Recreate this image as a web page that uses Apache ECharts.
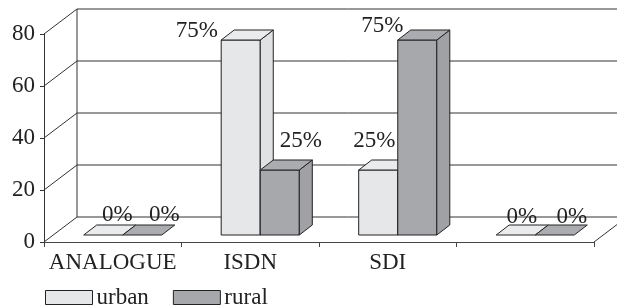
<!DOCTYPE html>
<html>
<head>
<meta charset="utf-8">
<script src="https://cdn.jsdelivr.net/npm/echarts@6/dist/echarts.min.js"></script>
<style>
  html, body { margin: 0; padding: 0; background: #fff; }
  #myChart { width: 617px; height: 306px; }
</style>
</head>
<body>
<div id="myChart"></div>
<script>
// 数据
var categories = ["ANALOGUE", "ISDN", "SDI", ""];
var urban = [0, 75, 25, 0];
var rural = [0, 25, 75, 0];
var yTicks = [0, 20, 40, 60, 80];

// label nudges (px)
var urbanLabelDx = [14, -44, -4, 6];
var urbanLabelDy = [-13, -2, -22, -11];
var ruralLabelDx = [22, 21, -35, 17];
var ruralLabelDy = [-13, -22, -7, -11];

var FONT = "'Liberation Serif', 'Times New Roman', serif";
var WALL = [33, -25]; // depth of back wall
var SHIFT = [10, -7]; // bar front plane
var DEPTH = [13, -10]; // bar depth

function wallItem(params, api) {
  var cs = params.coordSys;
  var v = api.value(1);
  var y = api.coord([0, v])[1];
  var x0 = cs.x, x1 = cs.x + cs.width;
  var st = { stroke: "#333", lineWidth: 1, fill: null };
  var kids = [
    { type: "line", shape: { x1: x0, y1: y, x2: x0 + WALL[0], y2: y + WALL[1] }, style: st },
    { type: "line", shape: { x1: x0 + WALL[0], y1: y + WALL[1], x2: x1 + WALL[0], y2: y + WALL[1] }, style: st }
  ];
  if (v === 0) {
    var yTop = api.coord([0, yTicks[yTicks.length - 1]])[1];
    kids.push({ type: "line", shape: { x1: x0 + WALL[0], y1: yTop + WALL[1], x2: x0 + WALL[0], y2: y + WALL[1] }, style: st });
    kids.push({ type: "line", shape: { x1: x1, y1: y, x2: x1 + WALL[0], y2: y + WALL[1] }, style: st });
  }
  return { type: "group", children: kids };
}

function barRenderer(isLeft, colors, labelDx, labelDy) {
  return function(params, api) {
    var idx = api.value(0), v = api.value(1);
    var base = api.coord([idx, 0]);
    var top = api.coord([idx, v]);
    var w = api.size([1, 0])[0] * 0.284;
    var xl = base[0] + SHIFT[0] + (isLeft ? -w : 0);
    var xr = xl + w;
    var yb = base[1] + SHIFT[1], yt = top[1] + SHIFT[1];
    var dx = DEPTH[0], dy = DEPTH[1];
    var line = { stroke: "#222", lineWidth: 1 };
    var kids = [];
    if (v > 0) {
      kids.push({ type: "polygon", shape: { points: [[xl, yt], [xr, yt], [xr, yb], [xl, yb]] },
        style: Object.assign({ fill: colors[0] }, line) });
      kids.push({ type: "polygon", shape: { points: [[xr, yt], [xr + dx, yt + dy], [xr + dx, yb + dy], [xr, yb]] },
        style: Object.assign({ fill: colors[2] }, line) });
    }
    kids.push({ type: "polygon", shape: { points: [[xl, yt], [xl + dx, yt + dy], [xr + dx, yt + dy], [xr, yt]] },
      style: Object.assign({ fill: colors[1] }, line) });
    kids.push({ type: "text", style: {
      text: v + "%", x: (xl + xr) / 2 + labelDx[idx], y: yt + labelDy[idx] - 7,
      textAlign: "center", textVerticalAlign: "middle",
      fontFamily: FONT, fontSize: 23, fill: "#222"
    }, z2: 10 });
    return { type: "group", children: kids };
  };
}

var myChart = echarts.init(document.getElementById("myChart"));
myChart.setOption({
  animation: false,
  grid: { left: 44, right: 23, top: 34, bottom: 64 },
  legend: {
    left: 45, top: 286, padding: 0,
    itemWidth: 47, itemHeight: 14, itemGap: 24,
    icon: "rect",
    textStyle: { fontFamily: FONT, fontSize: 23, color: "#222", padding: [0, 0, 0, -1] },
    data: [
      { name: "urban", itemStyle: { color: "#e6e7e9", borderColor: "#222", borderWidth: 1 } },
      { name: "rural", itemStyle: { color: "#a7a8ab", borderColor: "#222", borderWidth: 1 } }
    ]
  },
  xAxis: {
    type: "category",
    data: categories,
    axisLine: { lineStyle: { color: "#444" } },
    axisTick: { show: true, length: 5, lineStyle: { color: "#444" } },
    axisLabel: { interval: 0, fontFamily: FONT, fontSize: 23, color: "#222", margin: 9 },
    splitLine: { show: false }
  },
  yAxis: {
    type: "value",
    min: 0, max: 80, interval: 20,
    axisLine: { show: true, lineStyle: { color: "#333" } },
    axisTick: { show: true, length: 4, lineStyle: { color: "#333" } },
    axisLabel: { fontFamily: FONT, fontSize: 23, color: "#222", margin: 9 },
    splitLine: { show: false }
  },
  series: [
    {
      name: "walls", type: "custom", z: 1, silent: true,
      renderItem: wallItem,
      data: yTicks.map(function(v) { return [0, v]; })
    },
    {
      name: "urban", type: "custom", z: 2,
      itemStyle: { color: "#e6e7e9" },
      renderItem: barRenderer(true, ["#e6e7e9", "#eaebed", "#e0e1e3"], urbanLabelDx, urbanLabelDy),
      data: urban.map(function(v, i) { return [i, v]; })
    },
    {
      name: "rural", type: "custom", z: 3,
      itemStyle: { color: "#a7a8ab" },
      renderItem: barRenderer(false, ["#a7a8ab", "#abacaf", "#a0a1a4"], ruralLabelDx, ruralLabelDy),
      data: rural.map(function(v, i) { return [i, v]; })
    }
  ]
});
</script>
</body>
</html>
